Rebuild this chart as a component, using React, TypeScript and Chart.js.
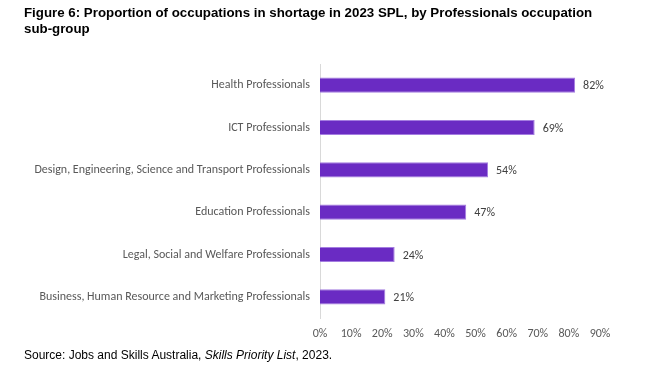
import React, { useEffect, useRef } from "react";
import { Chart, registerables } from "chart.js";

Chart.register(...registerables);

const categories = [
  "Health Professionals",
  "ICT Professionals",
  "Design, Engineering, Science and Transport Professionals",
  "Education Professionals",
  "Legal, Social and Welfare Professionals",
  "Business, Human Resource and Marketing Professionals",
];
const shortageShare = [82, 69, 54, 47, 24, 21];
const xTicks = [0, 10, 20, 30, 40, 50, 60, 70, 80, 90];

const LABEL_FONT = "Carlito, Calibri, 'Open Sans', sans-serif";

const valueLabels = {
  id: "valueLabels",
  afterDatasetsDraw(chart: any) {
    const ctx = chart.ctx;
    const meta = chart.getDatasetMeta(0);
    ctx.save();
    ctx.font = `12px ${LABEL_FONT}`;
    ctx.fillStyle = "#404040";
    ctx.textAlign = "left";
    ctx.textBaseline = "middle";
    meta.data.forEach((bar: any, i: number) => {
      const v = chart.data.datasets[0].data[i];
      ctx.fillText(`${v}%`, bar.x + 8, bar.y + 1);
    });
    ctx.restore();
  },
};

export default function App() {
  const ref = useRef<HTMLCanvasElement | null>(null);

  useEffect(() => {
    document.body.style.margin = "0";
    if (!ref.current) return;
    const chart = new Chart(ref.current, {
      type: "bar",
      data: {
        labels: categories,
        datasets: [
          {
            data: shortageShare,
            backgroundColor: "#6A2BC3",
            borderColor: "#A47DE0",
            borderWidth: 1,
            borderSkipped: "left",
            barPercentage: 0.72,
            categoryPercentage: 0.5,
          },
        ],
      },
      options: {
        indexAxis: "y",
        animation: false,
        responsive: false,
        maintainAspectRatio: false,
        layout: { padding: { top: 64, right: 56, bottom: 0, left: 0 } },
        plugins: {
          legend: { display: false },
          tooltip: { enabled: false },
          title: { display: false },
        },
        scales: {
          x: {
            min: 0,
            max: 90,
            afterBuildTicks(scale: any) {
              scale.ticks = xTicks.map((v) => ({ value: v }));
            },
            afterFit(scale: any) {
              scale.height = 52;
            },
            grid: { display: false, drawTicks: false },
            border: { display: false },
            ticks: {
              padding: 9,
              color: "#595959",
              font: { size: 12, family: LABEL_FONT },
              callback: (v: any) => `${v}%`,
            },
          },
          y: {
            afterFit(scale: any) {
              scale.width = 320;
            },
            grid: { display: false, drawTicks: false },
            border: { display: true, color: "#D9D9D9", width: 1 },
            ticks: {
              padding: 10,
              color: "#595959",
              font: { size: 12, family: LABEL_FONT },
            },
          },
        },
      },
      plugins: [valueLabels],
    });
    return () => chart.destroy();
  }, []);

  return (
    <div style={{ position: "relative", width: 656, height: 370, background: "#fff" }}>
      <canvas ref={ref} width={656} height={370} style={{ position: "absolute", left: 0, top: 0 }} />
      <div
        style={{
          position: "absolute",
          left: 24,
          top: 5,
          fontFamily: "'Liberation Sans', Arial, sans-serif",
          fontWeight: "bold",
          fontSize: 13.3,
          lineHeight: "16px",
          color: "#000",
          whiteSpace: "nowrap",
        }}
      >
        Figure 6: Proportion of occupations in shortage in 2023 SPL, by Professionals occupation
        <br />
        sub-group
      </div>
      <div
        style={{
          position: "absolute",
          left: 24,
          top: 347,
          fontFamily: "'Liberation Sans', Arial, sans-serif",
          fontSize: 12,
          lineHeight: "16px",
          color: "#000",
          whiteSpace: "nowrap",
        }}
      >
        Source: Jobs and Skills Australia, <i>Skills Priority List</i>, 2023.
      </div>
    </div>
  );
}
